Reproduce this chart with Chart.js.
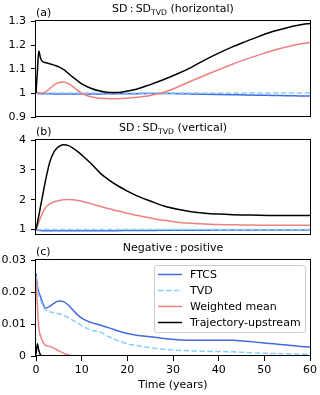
<!DOCTYPE html>
<html>
<head>
<meta charset="utf-8">
<script src="https://cdn.jsdelivr.net/npm/chart.js@4.4.0/dist/chart.umd.min.js"></script>
<style>
html, body { margin: 0; padding: 0; background: #fff; }
#wrap { position: relative; width: 320px; height: 395px; }
#wrap canvas { position: absolute; left: 0; top: 0; }
</style>
</head>
<body>
<div id="wrap">
<canvas id="chartA" width="320" height="395"></canvas>
<canvas id="chartB" width="320" height="395"></canvas>
<canvas id="chartC" width="320" height="395"></canvas>
</div>
<script>
// time axis (years), shared by all three panels
var years = [0, 0.3, 0.6, 1, 1.5, 2, 3, 4, 5, 6, 7, 8, 9, 10, 12, 14, 16, 18, 20, 22, 25, 28, 31, 34, 37, 40, 43, 46, 49, 52, 55, 58, 60];

// (a) SD:SD_TVD horizontal
var ftcsA = [1.0, 0.998, 0.997, 0.997, 0.997, 0.997, 0.997, 0.996, 0.996, 0.996, 0.996, 0.996, 0.996, 0.996, 0.996, 0.996, 0.997, 0.997, 0.997, 0.997, 0.998, 0.998, 0.997, 0.996, 0.995, 0.994, 0.993, 0.992, 0.991, 0.99, 0.989, 0.988, 0.987];
var tvdA = [1, 1, 1, 1, 1, 1, 1, 1, 1, 1, 1, 1, 1, 1, 1, 1, 1, 1, 1, 1, 1, 1, 1, 1, 1, 1, 1, 1, 1, 1, 1, 1, 1];
var meanA = [1.0, 1.003, 1.002, 1.0, 1.0, 1.004, 1.018, 1.034, 1.044, 1.046, 1.04, 1.028, 1.013, 0.999, 0.984, 0.978, 0.976, 0.976, 0.978, 0.982, 0.99, 1.003, 1.025, 1.05, 1.074, 1.097, 1.12, 1.141, 1.16, 1.178, 1.193, 1.205, 1.21];
var trajA = [1.0, 1.09, 1.175, 1.145, 1.13, 1.127, 1.122, 1.116, 1.109, 1.098, 1.083, 1.067, 1.052, 1.038, 1.02, 1.008, 1.002, 1.002, 1.008, 1.016, 1.035, 1.056, 1.08, 1.107, 1.138, 1.166, 1.192, 1.215, 1.237, 1.257, 1.272, 1.284, 1.29];

// (b) SD:SD_TVD vertical
var ftcsB = [1.0, 0.985, 0.975, 0.97, 0.965, 0.962, 0.96, 0.96, 0.96, 0.96, 0.96, 0.96, 0.96, 0.96, 0.961, 0.962, 0.964, 0.966, 0.968, 0.97, 0.973, 0.976, 0.978, 0.98, 0.982, 0.984, 0.985, 0.986, 0.987, 0.988, 0.989, 0.99, 0.99];
var tvdB = [1, 1, 1, 1, 1, 1, 1, 1, 1, 1, 1, 1, 1, 1, 1, 1, 1, 1, 1, 1, 1, 1, 1, 1, 1, 1, 1, 1, 1, 1, 1, 1, 1];
var meanB = [1.0, 1.12, 1.25, 1.4, 1.58, 1.72, 1.86, 1.93, 1.97, 2.0, 2.01, 2.0, 1.98, 1.95, 1.87, 1.78, 1.7, 1.62, 1.55, 1.48, 1.39, 1.31, 1.25, 1.21, 1.19, 1.17, 1.16, 1.155, 1.15, 1.15, 1.15, 1.15, 1.15];
var trajB = [1.0, 1.22, 1.45, 1.78, 2.18, 2.58, 3.25, 3.62, 3.78, 3.84, 3.82, 3.74, 3.63, 3.5, 3.22, 2.9, 2.66, 2.46, 2.29, 2.14, 1.96, 1.79, 1.68, 1.6, 1.55, 1.52, 1.5, 1.49, 1.48, 1.475, 1.47, 1.47, 1.47];

// (c) negative:positive
var ftcsC = [0.0258, 0.022, 0.02, 0.0185, 0.0165, 0.015, 0.0155, 0.0165, 0.0172, 0.017, 0.016, 0.0145, 0.013, 0.0118, 0.0105, 0.0097, 0.0088, 0.0078, 0.007, 0.0065, 0.006, 0.0055, 0.0051, 0.0049, 0.0049, 0.0049, 0.0049, 0.0046, 0.0042, 0.0038, 0.0034, 0.003, 0.0028];
var tvdC = [0.025, 0.021, 0.019, 0.0175, 0.0158, 0.0145, 0.0138, 0.0135, 0.0132, 0.0128, 0.012, 0.0112, 0.0105, 0.0095, 0.0081, 0.0075, 0.006, 0.0048, 0.0038, 0.0033, 0.0026, 0.0021, 0.0018, 0.0016, 0.0015, 0.0014, 0.0013, 0.0011, 0.0009, 0.0008, 0.0007, 0.0006, 0.0005];
var meanC = [0.024, 0.016, 0.009, 0.0062, 0.0045, 0.0034, 0.003, 0.0024, 0.0016, 0.0009, 0.0004, 0.0001, 0, 0, 0, 0, 0, 0, 0, 0, 0, 0, 0, 0, 0, 0, 0, 0, 0, 0, 0, 0, 0];
var trajC = [0.0005, 0.0038, 0.0018, 0.0003, 0, 0, 0, 0, 0, 0, 0, 0, 0, 0, 0, 0, 0, 0, 0, 0, 0, 0, 0, 0, 0, 0, 0, 0, 0, 0, 0, 0, 0];

var seriesNames = ['FTCS', 'TVD', 'Weighted mean', 'Trajectory-upstream'];
var yTicksA = [0.9, 1, 1.1, 1.2, 1.3];
var yTicksB = [1, 2, 3, 4];
var yTicksC = [0, 0.01, 0.02, 0.03];
var xTicks = [0, 10, 20, 30, 40, 50, 60];

var colors = ['#4169e1', '#87cefa', '#f08080', '#000000'];
var FONT = '"DejaVu Sans", sans-serif';

Chart.defaults.font.family = FONT;
Chart.defaults.font.size = 11;
Chart.defaults.color = '#000';
Chart.defaults.animation = false;

function pts(vals) {
    return years.map(function (t, i) { return {x: t, y: vals[i]}; });
}

function lineSets(ftcs, tvd, mean, traj) {
    var all = [ftcs, tvd, mean, traj];
    return all.map(function (vals, i) {
        return {
            label: seriesNames[i],
            data: pts(vals),
            borderColor: colors[i],
            borderWidth: 1.5,
            borderDash: i == 1 ? [5.5, 2.4] : [],
            pointRadius: 0,
            fill: false,
            cubicInterpolationMode: 'monotone',
            order: 3 - i
        };
    });
}

// frame + panel title with TVD subscript
function panelPlugin(letter, main, sub, rest) {
    return {
        id: 'panel',
        afterDatasetsDraw: function (chart) {
            var a = chart.chartArea, c = chart.ctx;
            var l = Math.round(a.left) - 0.5, r = Math.round(a.right) + 0.5;
            var t = Math.round(a.top) - 0.5, b = Math.round(a.bottom) - 0.5;
            c.save();
            c.strokeStyle = '#000';
            c.lineWidth = 1;
            c.strokeRect(l, t, r - l, b - t);

            c.fillStyle = '#000';
            c.textBaseline = 'alphabetic';
            c.font = '11px ' + FONT;
            c.textAlign = 'left';
            c.fillText(letter, a.left, a.top - 5.5);

            var w1 = c.measureText(main).width;
            var w3 = c.measureText(rest).width;
            c.font = '7.7px ' + FONT;
            var w2 = sub ? c.measureText(sub).width : 0;
            var x0 = (a.left + a.right) / 2 - (w1 + w2 + w3) / 2;
            var y0 = a.top - 9;
            c.font = '11px ' + FONT;
            c.fillText(main, x0, y0);
            if (sub) {
                c.font = '7.7px ' + FONT;
                c.fillText(sub, x0 + w1, y0 + 2.5);
            }
            c.font = '11px ' + FONT;
            c.fillText(rest, x0 + w1 + w2, y0);
            c.restore();
        }
    };
}

var legendPlugin = {
    id: 'boxLegend',
    afterDraw: function (chart) {
        var c = chart.ctx;
        var bx = 154.5, by = 265.5, bw = 151, bh = 67;
        c.save();
        c.beginPath();
        c.roundRect(bx, by, bw, bh, 2.5);
        c.fillStyle = 'rgba(255,255,255,0.8)';
        c.fill();
        c.strokeStyle = '#cccccc';
        c.lineWidth = 1;
        c.stroke();
        c.font = '11px ' + FONT;
        c.textBaseline = 'middle';
        c.textAlign = 'left';
        chart.data.datasets.forEach(function (ds, i) {
            var y = 274.5 + i * 16;
            c.beginPath();
            c.setLineDash(ds.borderDash);
            c.strokeStyle = ds.borderColor;
            c.lineWidth = 1.5;
            c.moveTo(158, y);
            c.lineTo(182, y);
            c.stroke();
            c.setLineDash([]);
            c.fillStyle = '#000';
            c.fillText(ds.label, 190, y + 0.5);
        });
        c.restore();
    }
};

function yAxis(min, max, tickList) {
    return {
        min: min,
        max: max,
        afterBuildTicks: function (s) { s.ticks = tickList.map(function (v) { return {value: v}; }); },
        afterFit: function (s) { s.width = 36; },
        grid: {drawOnChartArea: false, drawTicks: true, tickLength: 5, color: '#000'},
        border: {display: false},
        ticks: {padding: 5, callback: function (v) { return String(v); }}
    };
}

function hiddenX() {
    return {type: 'linear', min: 0, max: 60, display: false};
}

new Chart(document.getElementById('chartA'), {
    type: 'line',
    data: {datasets: lineSets(ftcsA, tvdA, meanA, trajA)},
    options: {
        responsive: false,
        layout: {padding: {left: 0, right: 10, top: 21, bottom: 278}},
        plugins: {legend: {display: false}, tooltip: {enabled: false}},
        scales: {x: hiddenX(), y: yAxis(0.9, 1.3, yTicksA)}
    },
    plugins: [panelPlugin('(a)', 'SD\u2009:\u2009SD', 'TVD', ' (horizontal)')]
});

new Chart(document.getElementById('chartB'), {
    type: 'line',
    data: {datasets: lineSets(ftcsB, tvdB, meanB, trajB)},
    options: {
        responsive: false,
        layout: {padding: {left: 0, right: 10, top: 140, bottom: 160}},
        plugins: {legend: {display: false}, tooltip: {enabled: false}},
        scales: {x: hiddenX(), y: yAxis(0.82, 4.0, yTicksB)}
    },
    plugins: [panelPlugin('(b)', 'SD\u2009:\u2009SD', 'TVD', ' (vertical)')]
});

new Chart(document.getElementById('chartC'), {
    type: 'line',
    data: {datasets: lineSets(ftcsC, tvdC, meanC, trajC)},
    options: {
        responsive: false,
        layout: {padding: {left: 0, right: 10, top: 260, bottom: 0}},
        plugins: {legend: {display: false}, tooltip: {enabled: false}},
        scales: {
            x: {
                type: 'linear',
                min: 0,
                max: 60,
                afterBuildTicks: function (s) { s.ticks = xTicks.map(function (v) { return {value: v}; }); },
                afterFit: function (s) { s.height = 39; },
                grid: {drawOnChartArea: false, drawTicks: true, tickLength: 5, color: '#000'},
                border: {display: false},
                ticks: {padding: 3, maxRotation: 0, autoSkip: false},
                title: {display: true, text: 'Time (years)', padding: {top: 0, bottom: 3}}
            },
            y: yAxis(0, 0.03, yTicksC)
        }
    },
    plugins: [panelPlugin('(c)', 'Negative\u2009:\u2009positive', '', ''), legendPlugin]
});
</script>
</body>
</html>
